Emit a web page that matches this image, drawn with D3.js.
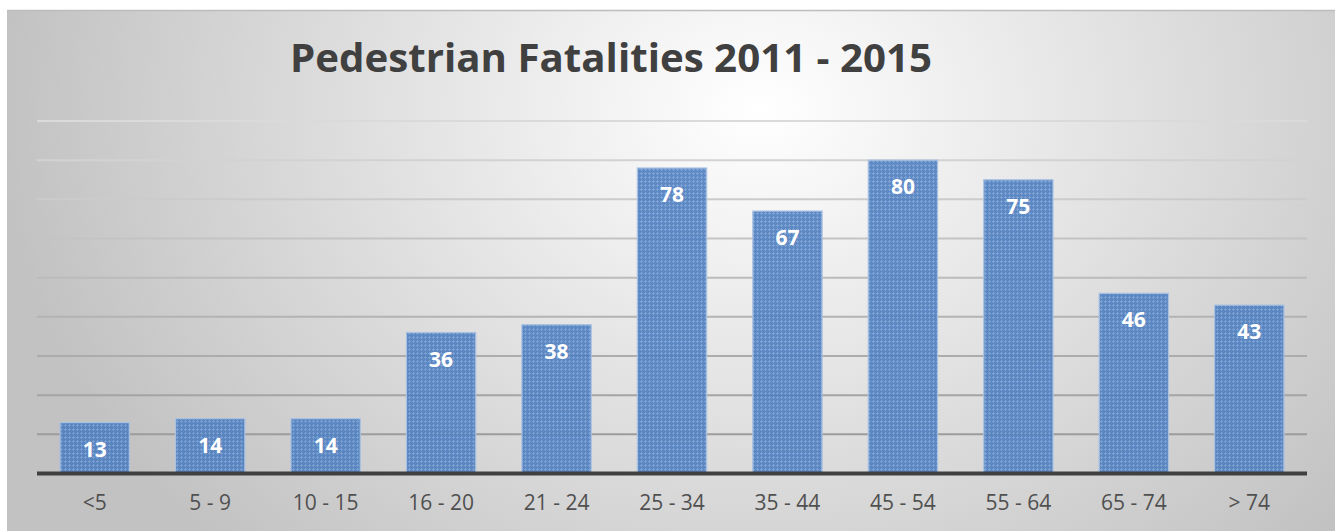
<!DOCTYPE html>
<html>
<head>
<meta charset="utf-8">
<script src="https://cdn.jsdelivr.net/npm/d3@7"></script>
<style>
  html, body { margin: 0; padding: 0; background: #ffffff; }
  svg { display: block; }
</style>
</head>
<body>
<svg id="chart" width="1337" height="531"></svg>
<script>
// chart data
const ageGroups = ["<5", "5 - 9", "10 - 15", "16 - 20", "21 - 24", "25 - 34", "35 - 44", "45 - 54", "55 - 64", "65 - 74", "> 74"];
const fatalities = [13, 14, 14, 36, 38, 78, 67, 80, 75, 46, 43];
const gridTicks = [10, 20, 30, 40, 50, 60, 70, 80, 90];
const chartTitle = "Pedestrian Fatalities 2011 - 2015";

const svg = d3.select("#chart");
const width = +svg.attr("width");
const height = +svg.attr("height");
const margin = { left: 37, right: 30, top: 121, bottom: 57.5 };

const defs = svg.append("defs");

// background: soft radial grey, wider than tall
const bg = defs.append("radialGradient")
  .attr("id", "bgGrad")
  .attr("gradientUnits", "userSpaceOnUse")
  .attr("cx", 0).attr("cy", 0).attr("r", 1)
  .attr("gradientTransform", "translate(760,110) scale(760,620)");
bg.append("stop").attr("offset", "0%").attr("stop-color", "#ffffff");
bg.append("stop").attr("offset", "100%").attr("stop-color", "#c2c2c2");

// dotted texture used on the bars
const pat = defs.append("pattern")
  .attr("id", "barPat")
  .attr("patternUnits", "userSpaceOnUse")
  .attr("width", 4).attr("height", 4);
pat.append("rect").attr("width", 4).attr("height", 4).attr("fill", "#4d7ec0");
pat.append("rect").attr("x", 1).attr("y", 0).attr("width", 1).attr("height", 3).attr("fill", "#7299d0");
pat.append("rect").attr("x", 0).attr("y", 1).attr("width", 3).attr("height", 1).attr("fill", "#7299d0");

svg.append("rect")
  .attr("x", 7).attr("y", 10)
  .attr("width", width - 9).attr("height", height - 10)
  .attr("fill", "url(#bgGrad)");
svg.append("line")
  .attr("x1", 7).attr("x2", width - 2)
  .attr("y1", 10.5).attr("y2", 10.5)
  .attr("stroke", "#bdbdbd").attr("stroke-width", 1.5);

const x = d3.scaleBand()
  .domain(ageGroups)
  .range([margin.left, width - margin.right])
  .paddingInner(0.4)
  .paddingOuter(0.2);

const y = d3.scaleLinear()
  .domain([0, 90])
  .range([height - margin.bottom, margin.top]);

// gridlines, lighter towards the top
const gridColor = d3.scaleLinear().domain([10, 90]).range(["#9c9c9c", "#dadada"]);
svg.append("g")
  .selectAll("line")
  .data(gridTicks)
  .join("line")
  .attr("x1", margin.left)
  .attr("x2", width - margin.right)
  .attr("y1", d => y(d))
  .attr("y2", d => y(d))
  .attr("stroke", d => gridColor(d))
  .attr("stroke-width", 2);

// bars
svg.append("g")
  .selectAll("rect")
  .data(fatalities)
  .join("rect")
  .attr("x", (d, i) => x(ageGroups[i]))
  .attr("y", d => y(d))
  .attr("width", x.bandwidth())
  .attr("height", d => y(0) - y(d))
  .attr("fill", "url(#barPat)")
  .attr("fill-opacity", 0.9)
  .attr("stroke", "#a9c1e2")
  .attr("stroke-width", 1.2);

// value labels
svg.append("g")
  .selectAll("text")
  .data(fatalities)
  .join("text")
  .attr("x", (d, i) => x(ageGroups[i]) + x.bandwidth() / 2)
  .attr("y", d => y(d) + 34)
  .attr("text-anchor", "middle")
  .attr("font-family", "'Open Sans', sans-serif")
  .attr("font-weight", "bold")
  .attr("font-size", 21)
  .attr("fill", "#ffffff")
  .text(d => d);

// x axis
const xAxis = svg.append("g")
  .attr("transform", `translate(0,${y(0)})`)
  .call(d3.axisBottom(x).tickSize(0).tickPadding(22));
xAxis.select(".domain")
  .attr("stroke", "#404040")
  .attr("stroke-width", 4)
  .attr("d", `M${margin.left},0H${width - margin.right}`);
xAxis.selectAll("text")
  .attr("font-family", "'Open Sans', sans-serif")
  .attr("font-size", 21)
  .attr("fill", "#505050")
  .attr("dy", "0.71em");

// title
const title = svg.append("text")
  .attr("x", 290)
  .attr("y", 72)
  .attr("font-family", "'Open Sans', sans-serif")
  .attr("font-weight", "bold")
  .attr("font-size", 39)
  .attr("fill", "#404040")
  .text(chartTitle);
title.attr("textLength", 642).attr("lengthAdjust", "spacingAndGlyphs");
</script>
</body>
</html>
